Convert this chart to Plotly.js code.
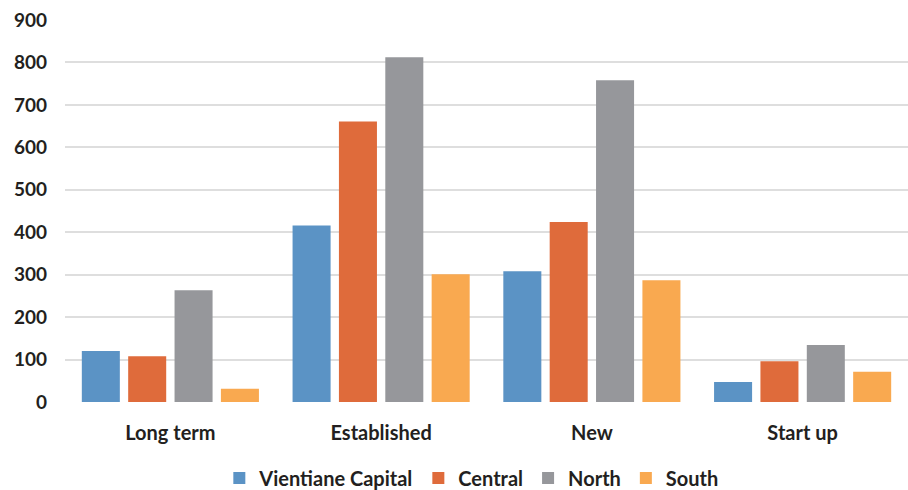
<!DOCTYPE html>
<html>
<head>
<meta charset="utf-8">
<script src="https://cdn.plot.ly/plotly-3.0.1.min.js"></script>
<style>html,body{margin:0;padding:0;background:#fff;}#chart{width:908px;height:490px;}</style>
</head>
<body>
<div id="chart"></div>
<script>
const categories = ["Long term", "Established", "New", "Start up"];
const seriesNames = ["Vientiane Capital", "Central", "North", "South"];
const vientiane = [120, 416, 308, 47];
const central = [108, 661, 424, 96];
const north = [263, 812, 758, 134];
const south = [31, 301, 287, 71];
const yTicks = [0, 100, 200, 300, 400, 500, 600, 700, 800, 900];

const colors = ["#5B93C5", "#DF6B3B", "#96979B", "#F9A950"];
const allValues = [vientiane, central, north, south];

const traces = allValues.map((vals, i) => ({
  type: "bar",
  name: seriesNames[i],
  x: categories,
  y: vals,
  marker: {color: colors[i]},
  hoverinfo: "x+y+name"
}));

const layout = {
  width: 908,
  height: 490,
  margin: {l: 65, r: 0, t: 20, b: 88, autoexpand: false},
  paper_bgcolor: "#fff",
  plot_bgcolor: "#fff",
  font: {family: "Lato, 'Open Sans', sans-serif", color: "#231F20", size: 18, weight: "bold"},
  barmode: "group",
  bargap: 0.12,
  bargroupgap: 0.18,
  xaxis: {
    showgrid: false,
    zeroline: false,
    showline: false,
    ticks: "",
    ticklabelstandoff: 17,
    tickfont: {size: 20, weight: "bold", color: "#231F20"}
  },
  yaxis: {
    range: [0, 900],
    tickvals: yTicks,
    ticktext: yTicks.map(String),
    showgrid: true,
    gridcolor: "#DEDEDE",
    gridwidth: 2,
    zeroline: false,
    showline: false,
    ticks: "",
    ticklabelstandoff: 17,
    tickfont: {size: 19, weight: "bold", color: "#231F20"}
  },
  legend: {
    orientation: "h",
    x: 0.482,
    xanchor: "center",
    y: -0.148,
    yanchor: "top",
    font: {size: 20, weight: "bold", color: "#231F20"},
    itemwidth: 30,
    traceorder: "normal"
  },
  showlegend: true
};

Plotly.newPlot("chart", traces, layout, {displayModeBar: false, staticPlot: true});
</script>
</body>
</html>
